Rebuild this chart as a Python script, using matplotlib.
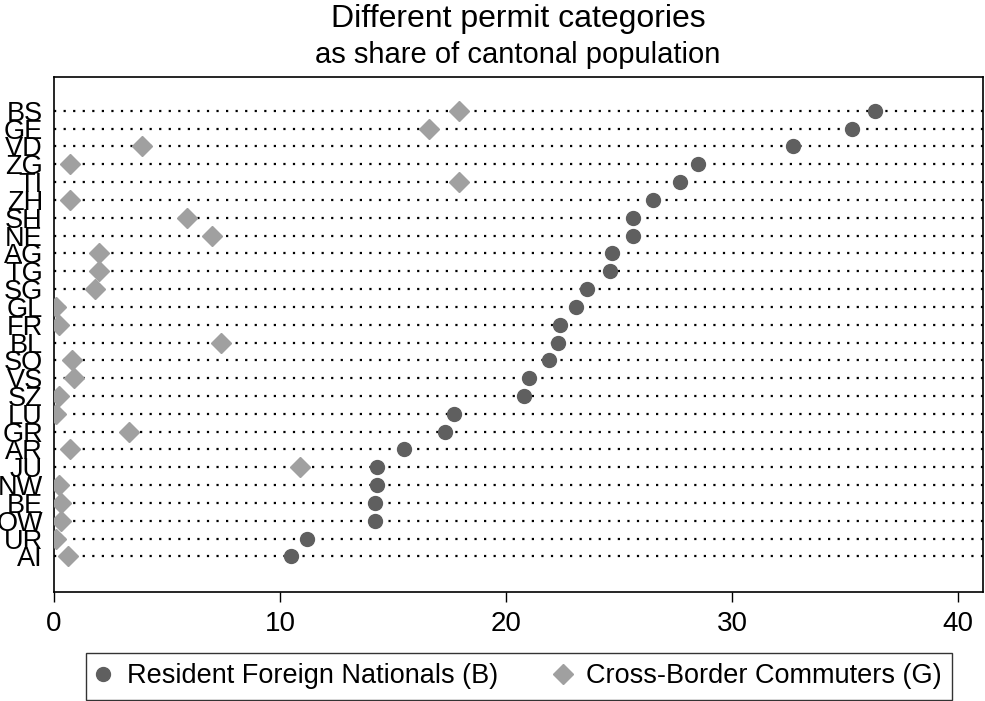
import matplotlib.pyplot as plt
from matplotlib.lines import Line2D

plt.rcParams['font.family'] = ['Liberation Sans', 'DejaVu Sans']

# cantons, sorted by share of resident foreign nationals (top to bottom)
cantons = ["BS", "GE", "VD", "ZG", "TI", "ZH", "SH", "NE", "AG", "TG", "SG", "GL", "FR",
           "BL", "SO", "VS", "SZ", "LU", "GR", "AR", "JU", "NW", "BE", "OW", "UR", "AI"]
# permit B, % of cantonal population
resident_b = [36.3, 35.3, 32.7, 28.5, 27.7, 26.5, 25.6, 25.6, 24.7, 24.6, 23.6, 23.1, 22.4,
              22.3, 21.9, 21.0, 20.8, 17.7, 17.3, 15.5, 14.3, 14.3, 14.2, 14.2, 11.2, 10.5]
# permit G, % of cantonal population
commuters_g = [17.9, 16.6, 3.9, 0.7, 17.9, 0.7, 5.9, 7.0, 2.0, 2.0, 1.8, 0.1, 0.2,
               7.4, 0.8, 0.9, 0.2, 0.1, 3.3, 0.7, 10.9, 0.2, 0.3, 0.3, 0.1, 0.6]

dark = "#5f5f5f"
light = "#a0a0a0"

fig = plt.figure(figsize=(9.85, 7.01), dpi=100)
ax = fig.add_axes([54 / 985, 1 - 592 / 701, (983 - 54) / 985, (592 - 77) / 701])

n = len(cantons)
ypos = [n - 1 - i for i in range(n)]

# dotted guide lines
for y in ypos:
    ax.axhline(y, color="black", lw=1.6, linestyle=(0, (1, 3.3)), zorder=1)

ax.plot(resident_b, ypos, linestyle="none", marker="o", ms=10, color=dark,
        mec=dark, zorder=3)
ax.plot(commuters_g, ypos, linestyle="none", marker="D", ms=9.7, color=light,
        mec=light, zorder=3)

ax.set_xlim(0, 41.1)
ax.set_ylim(-2.0, 26.9)
ax.set_xticks([0, 10, 20, 30, 40])
ax.set_yticks(ypos)
ax.set_yticklabels(cantons)
ax.tick_params(axis="x", length=7, width=1, pad=7, labelsize=20)
ax.tick_params(axis="y", length=0, pad=8, labelsize=19.5)
for s in ax.spines.values():
    s.set_linewidth(1.2)
    s.set_color("black")

fig.text(518 / 985, 1 - 27 / 701, "Different permit categories", ha="center",
         va="baseline", fontsize=23)
fig.text(518 / 985, 1 - 63 / 701, "as share of cantonal population", ha="center",
         va="baseline", fontsize=21)

handles = [Line2D([], [], linestyle="none", marker="o", ms=10, color=dark),
           Line2D([], [], linestyle="none", marker="D", ms=9.7, color=light)]
leg = fig.legend(handles, ["Resident Foreign Nationals (B)", "Cross-Border Commuters (G)"],
                 loc="upper center", bbox_to_anchor=(519 / 985, 1 - 653 / 701), ncol=2,
                 fontsize=19.5, frameon=True, fancybox=False, edgecolor="black",
                 borderpad=0.38, handlelength=0.52, handletextpad=0.6, columnspacing=2.15,
                 borderaxespad=0)
leg.get_frame().set_linewidth(1.0)

fig.savefig("out.png", dpi=100, facecolor="white")
